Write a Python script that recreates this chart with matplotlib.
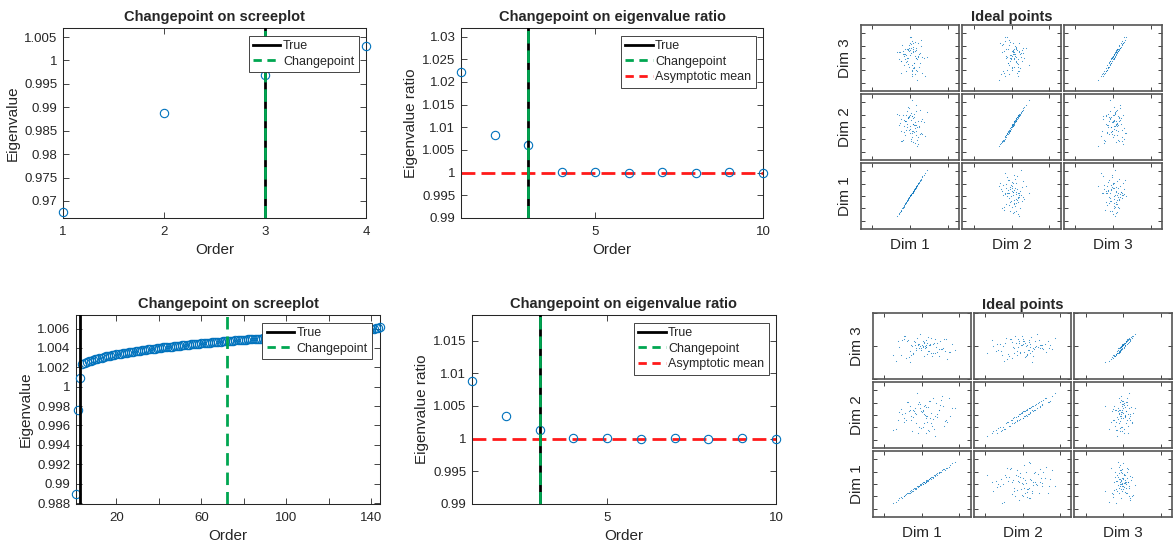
import matplotlib
matplotlib.use("Agg")
import matplotlib.pyplot as plt
from matplotlib.ticker import FuncFormatter
from matplotlib.lines import Line2D

plt.rcParams['font.family'] = ['Liberation Sans', 'DejaVu Sans']

# ---------------- data ----------------
# top row: screeplot / eigenvalue ratio
scree_top = [0.96764, 0.98879, 0.99693, 1.00314]
ratio_top = [1.0221, 1.0083, 1.0062, 1.0001, 1.0002, 1.0000, 1.0002, 1.0000, 1.0001, 1.0000]
true_top = 3
cp_scree_top = 3
cp_ratio_top = 3

# bottom row
scree_bot = [
    0.98894, 0.99758, 1.00094, 1.00231,
    1.00245, 1.00254, 1.00262, 1.00269, 1.00277, 1.00285,
    1.00290, 1.00296, 1.00301, 1.00307, 1.00312, 1.00316, 1.00320, 1.00325, 1.00329, 1.00333,
    1.00337, 1.00341, 1.00345, 1.00348, 1.00352, 1.00355, 1.00359, 1.00362, 1.00366, 1.00370,
    1.00373, 1.00376, 1.00379, 1.00382, 1.00385, 1.00388, 1.00391, 1.00394, 1.00397, 1.00400,
    1.00403, 1.00405, 1.00408, 1.00410, 1.00413, 1.00415, 1.00418, 1.00420, 1.00423, 1.00425,
    1.00427, 1.00429, 1.00431, 1.00434, 1.00436, 1.00438, 1.00440, 1.00442, 1.00445, 1.00447,
    1.00449, 1.00451, 1.00453, 1.00455, 1.00457, 1.00459, 1.00461, 1.00463, 1.00465, 1.00467,
    1.00469, 1.00471, 1.00473, 1.00475, 1.00476, 1.00478, 1.00480, 1.00482, 1.00483, 1.00485,
    1.00487, 1.00488, 1.00490, 1.00491, 1.00493, 1.00494, 1.00496, 1.00497, 1.00499, 1.00500,
    1.00502, 1.00503, 1.00505, 1.00506, 1.00508, 1.00509, 1.00511, 1.00512, 1.00514, 1.00515,
    1.00517, 1.00518, 1.00520, 1.00521, 1.00523, 1.00524, 1.00526, 1.00527, 1.00529, 1.00530,
    1.00532, 1.00533, 1.00535, 1.00536, 1.00538, 1.00539, 1.00541, 1.00542, 1.00544, 1.00545,
    1.00547, 1.00549, 1.00551, 1.00553, 1.00555, 1.00557, 1.00559, 1.00561, 1.00563, 1.00565,
    1.00567, 1.00570, 1.00572, 1.00575, 1.00577, 1.00580, 1.00583, 1.00586, 1.00590, 1.00595,
    1.00599, 1.00604, 1.00609, 1.00615,
]
ratio_bot = [1.00883, 1.00342, 1.00138, 1.00015, 1.0001, 1.0000, 1.0001, 1.0000, 1.0001, 1.0000]
true_bot = 3
cp_scree_bot = 72
cp_ratio_bot = 3

# ideal points, top row (true positions -> x, estimates -> y)
t1_top = [0.31, -0.52, 1.12, 0.05, -1.21, 0.74, 0.22, -0.35, 1.58, -0.88,
          0.47, 0.13, -0.64, 0.96, -0.12, 0.58, -1.45, 0.36, 1.31, -0.27,
          0.82, -0.71, 0.04, 1.77, -0.49, 0.28, -1.02, 0.65, 0.19, -0.18,
          1.05, -0.93, 0.41, 2.18, -0.06, 0.53, -1.68, 0.87, 0.15, -0.41,
          1.24, -0.79, 0.34, 0.71, -0.23, 1.46, -1.15, 0.09, 0.62, -0.57,
          0.99, 0.25, -1.33, 0.44, 1.63, -0.14, 0.77, -0.66, 0.18, 1.18,
          -0.98, 0.51, -0.31, 0.92, 0.02, -1.52, 1.37, -0.45, 0.68, 0.29,
          -0.84, 1.09, -0.09, 0.38, -1.27, 0.83, 1.92, -0.36, 0.56, -0.02]
e1_top = [0.28, -0.49, 1.08, 0.09, -1.17, 0.70, 0.25, -0.31, 1.52, -0.85,
          0.44, 0.16, -0.60, 0.91, -0.09, 0.55, -1.40, 0.33, 1.26, -0.24,
          0.79, -0.68, 0.07, 1.70, -0.46, 0.25, -0.98, 0.61, 0.22, -0.15,
          1.01, -0.89, 0.38, 2.06, -0.03, 0.50, -1.62, 0.83, 0.18, -0.38,
          1.19, -0.75, 0.31, 0.68, -0.20, 1.40, -1.11, 0.12, 0.59, -0.54,
          0.95, 0.28, -1.28, 0.41, 1.57, -0.11, 0.73, -0.63, 0.21, 1.13,
          -0.94, 0.48, -0.28, 0.88, 0.05, -1.47, 1.31, -0.42, 0.65, 0.26,
          -0.81, 1.04, -0.06, 0.35, -1.22, 0.79, 1.85, -0.33, 0.53, 0.01]
t2_top = [-0.42, 0.88, 0.15, -1.08, 0.53, 1.36, -0.27, 0.71, -0.63, 0.02,
          1.14, -0.85, 0.39, -0.11, 0.96, -1.39, 0.24, 0.62, -0.48, 1.71,
          0.07, -0.72, 1.03, 0.33, -0.19, 0.81, -1.22, 0.46, 2.25, -0.36,
          0.58, -0.94, 0.12, 1.27, -0.57, 0.29, 0.93, -1.61, 0.66, -0.05,
          1.48, -0.31, 0.19, -0.77, 0.84, 0.41, -1.03, 1.19, -0.14, 0.55,
          -0.68, 0.98, 0.27, -1.31, 0.74, 1.58, -0.22, 0.36, -0.89, 0.11,
          1.07, -0.46, 0.63, -1.14, 0.21, 0.86, -0.38, 1.34, 0.04, -0.61,
          0.49, -1.49, 0.92, 0.17, -0.25, 1.88, -0.81, 0.31, 0.69, -0.09]
e2_top = [-0.35, 0.97, 0.05, -1.15, 0.61, 1.27, -0.36, 0.79, -0.55, 0.11,
          1.05, -0.93, 0.47, -0.02, 0.87, -1.30, 0.15, 0.70, -0.57, 1.62,
          0.16, -0.64, 0.94, 0.42, -0.28, 0.89, -1.13, 0.37, 2.14, -0.27,
          0.49, -1.03, 0.21, 1.18, -0.48, 0.20, 1.02, -1.52, 0.57, 0.04,
          1.39, -0.40, 0.28, -0.68, 0.75, 0.50, -1.12, 1.10, -0.05, 0.46,
          -0.77, 0.89, 0.36, -1.22, 0.65, 1.49, -0.31, 0.45, -0.80, 0.02,
          0.98, -0.37, 0.72, -1.05, 0.12, 0.95, -0.47, 1.25, 0.13, -0.52,
          0.58, -1.40, 0.83, 0.26, -0.34, 1.79, -0.72, 0.22, 0.78, -0.18]
t3_top = [0.62, -0.91, 0.14, 1.25, -0.37, 0.48, -1.44, 0.83, -0.06, 0.29,
          -0.68, 1.52, 0.09, -0.23, 0.71, -1.12, 0.36, 1.03, -0.52, 0.18,
          -0.81, 0.55, 1.36, -0.15, 0.42, -1.27, 0.88, 0.01, -0.44, 1.16,
          -0.03, 0.67, -0.96, 0.24, 1.78, -0.58, 0.33, -1.93, 0.93, -0.19,
          0.51, -0.74, 1.09, 0.12, -0.33, 0.79, -1.05, 0.27, 1.44, -0.48,
          0.06, -0.87, 0.61, 0.38, -1.36, 0.97, -0.11, 0.45, 1.21, -0.62,
          0.21, -0.29, 0.85, -1.18, 0.53, 0.03, 1.62, -0.41, 0.74, -0.79,
          0.16, 1.31, -0.55, 0.39, -0.08, 0.92, -1.59, 0.58, -0.25, 0.11]
e3_top = [0.75, -1.05, 0.29, 1.11, -0.21, 0.62, -1.30, 0.68, 0.10, 0.15,
          -0.82, 1.67, -0.06, -0.08, 0.57, -1.26, 0.51, 0.90, -0.38, 0.04,
          -0.95, 0.70, 1.22, -0.01, 0.27, -1.41, 1.02, 0.15, -0.58, 1.01,
          0.12, 0.53, -0.82, 0.10, 1.65, -0.72, 0.47, -1.80, 0.79, -0.04,
          0.37, -0.60, 1.23, -0.02, -0.47, 0.93, -1.19, 0.41, 1.30, -0.34,
          0.20, -1.01, 0.47, 0.52, -1.22, 0.83, 0.03, 0.31, 1.35, -0.76,
          0.35, -0.43, 0.71, -1.04, 0.67, -0.11, 1.48, -0.27, 0.60, -0.93,
          0.30, 1.17, -0.69, 0.53, -0.22, 0.78, -1.45, 0.72, -0.39, 0.25]

# ideal points, bottom row
t1_bot = [0.62, -1.84, 2.35, -0.47, 1.18, -3.12, 0.93, 3.41, -1.06, 0.15,
          -2.43, 1.76, 0.38, -0.82, 2.91, -1.57, 0.04, 1.42, -3.86, 0.71,
          2.08, -0.29, -1.33, 4.42, 0.49, -2.11, 1.05, -0.61, 3.02, -0.14,
          1.63, -2.78, 0.27, 2.57, -1.21, 0.86, -0.38, 3.78, -1.92, 1.31,
          -0.95, 0.53, 2.22, -3.45, 0.11, 1.89, -0.71, -2.26, 2.69, 0.79,
          -1.48, 0.34, 3.25, -0.53, 1.51, -2.63, 0.97, -0.19, 1.97, -1.71,
          0.58, 2.84, -1.13, 0.23, -3.01, 1.24, 3.57, -0.88, 0.42, -1.39,
          2.46, -0.07, 1.12, -2.34, 0.69, 4.05, -0.44, 1.71, -1.64, 0.18]
e1_bot = [0.30, -0.69, 0.98, -0.25, 0.41, -1.31, 0.42, 1.30, -0.36, 0.13,
          -0.93, 0.76, 0.09, -0.39, 1.21, -0.56, 0.08, 0.50, -1.55, 0.33,
          0.87, -0.05, -0.60, 1.78, 0.14, -0.80, 0.48, -0.19, 1.14, -0.11,
          0.71, -1.07, 0.16, 0.97, -0.53, 0.29, -0.20, 1.56, -0.72, 0.58,
          -0.34, 0.26, 0.85, -1.42, 0.00, 0.80, -0.33, -0.86, 1.13, 0.27,
          -0.64, 0.19, 1.26, -0.17, 0.55, -1.10, 0.44, -0.02, 0.75, -0.73,
          0.18, 1.18, -0.40, 0.14, -1.14, 0.54, 1.39, -0.39, 0.12, -0.51,
          0.94, 0.04, 0.49, -0.97, 0.22, 1.65, -0.13, 0.63, -0.70, 0.02]
t2_bot = [-1.27, 2.14, 0.48, -3.36, 1.05, -0.52, 3.61, -2.08, 0.19, 1.68,
          -0.94, -4.72, 2.57, 0.73, -1.65, 1.29, -0.11, 3.02, -2.71, 0.36,
          -0.28, 1.91, -3.89, 0.87, 2.39, -1.42, 0.05, 4.26, -0.77, 1.43,
          -2.33, 0.61, -0.43, 2.78, -1.08, 1.17, -3.04, 0.24, 3.33, -1.86,
          0.92, -0.63, 1.56, -2.52, 0.13, 2.02, -1.19, -0.06, 3.87, -3.58,
          0.55, 1.34, -1.53, 2.63, -0.35, 0.81, -2.89, 1.79, -0.89, 0.29,
          -4.11, 2.28, 0.66, -1.36, 1.02, -2.21, 3.15, -0.17, 0.43, -0.71,
          1.62, -3.23, 2.46, 0.08, -1.97, 0.99, 3.48, -0.56, 1.21, -2.62]
e2_bot = [-0.22, 1.05, 0.41, -1.45, 0.18, -0.41, 1.16, -0.60, 0.32, 0.43,
          -0.58, -1.68, 0.84, 0.05, -0.85, 0.71, 0.21, 1.33, -1.17, -0.06,
          0.12, 0.53, -1.32, 0.60, 0.68, -0.37, -0.24, 1.78, -0.49, 0.33,
          -1.10, 0.46, 0.08, 1.24, -0.19, 0.61, -0.98, -0.12, 1.05, -0.87,
          0.53, -0.08, 0.42, -1.14, 0.30, 0.95, -0.62, 0.17, 1.49, -1.21,
          -0.05, 0.74, -0.43, 0.87, -0.35, 0.07, -1.27, 0.88, -0.14, 0.35,
          -1.42, 0.71, 0.43, -0.68, 0.22, -0.61, 1.36, 0.19, 0.02, -0.44,
          0.80, -1.05, 1.10, -0.24, -0.55, 0.55, 1.07, -0.11, 0.37, -0.93]
t3_bot = [-0.28, 0.45, -1.12, 0.13, -0.61, 0.92, -0.05, -1.63, 0.38, -0.44,
          1.21, -0.83, 0.07, -0.31, 0.66, -2.38, -0.18, 0.51, -0.95, 0.24,
          -0.52, 1.53, -0.12, -0.74, 0.31, -1.29, 0.02, 0.82, -0.39, -0.66,
          0.17, -1.41, 0.59, -0.23, -0.87, 1.06, -0.09, -0.48, 0.35, -1.05,
          0.71, -0.35, -0.16, -1.86, 0.42, 0.09, -0.57, 1.34, -0.26, -0.79,
          0.28, -1.18, 0.54, -0.02, -0.69, 0.86, -0.43, -0.21, 0.19, -1.51,
          0.63, -0.11, -0.91, 0.40, -0.33, 1.12, -0.62, -0.07, 0.21, -1.23,
          0.48, -0.47, -0.14, 0.77, -0.99, 0.03, -0.37, 0.95, -0.58, -0.25]
e3_bot = [-0.05, 0.35, -0.62, 0.14, -0.40, 0.30, 0.09, -0.79, 0.32, -0.08,
          0.62, -0.45, -0.13, -0.25, 0.41, -0.94, 0.06, 0.12, -0.52, 0.21,
          -0.36, 0.74, 0.03, -0.23, 0.04, -0.70, 0.15, 0.46, -0.30, -0.12,
          0.20, -0.53, 0.18, -0.17, -0.44, 0.55, 0.10, -0.35, 0.30, -0.60,
          0.25, -0.04, -0.21, -0.88, 0.33, -0.07, -0.15, 0.63, -0.19, -0.32,
          0.09, -0.58, 0.42, 0.07, -0.41, 0.39, -0.29, 0.02, 0.16, -0.66,
          0.37, -0.12, -0.47, 0.24, -0.06, 0.49, -0.37, 0.08, 0.02, -0.55,
          0.28, -0.27, 0.05, 0.45, -0.49, 0.12, -0.10, 0.42, -0.33, -0.01]

# ---------------- style ----------------
TXT = '#262626'
BLUE = '#0072BD'
GREEN = '#00A651'
RED = '#FF1A1A'
W, H = 1173, 544

fig = plt.figure(figsize=(W / 100, H / 100), dpi=100)


def px_axes(left, top, right, bottom):
    return fig.add_axes([left / W, 1 - bottom / H, (right - left) / W, (bottom - top) / H])


def style_axes(ax):
    for s in ax.spines.values():
        s.set_color(TXT)
        s.set_linewidth(0.75)
    ax.tick_params(direction='in', length=4, width=0.6, top=True, right=True,
                   colors=TXT, labelsize=9.5, labelcolor=TXT)
    ax.tick_params(axis='x', pad=6)
    ax.tick_params(axis='y', pad=4)
    ax.yaxis.set_major_formatter(FuncFormatter(lambda v, p: f'{v:g}'))


def add_legend(ax, with_mean):
    handles = [Line2D([], [], color='black', lw=2),
               Line2D([], [], color=GREEN, lw=2, dashes=(3, 2))]
    labels = ['True', 'Changepoint']
    if with_mean:
        handles.append(Line2D([], [], color=RED, lw=2, dashes=(3, 2)))
        labels.append('Asymptotic mean')
    leg = ax.legend(handles, labels, loc='upper right', fontsize=9, fancybox=False,
                    framealpha=1, edgecolor=TXT, handlelength=2.2, handletextpad=0.2,
                    borderpad=0.35, labelspacing=0.3, borderaxespad=0.6)
    leg.get_frame().set_linewidth(0.6)
    for t in leg.get_texts():
        t.set_color(TXT)


def scree_panel(rect, vals, true_k, cp_k, ylim, yticks, xticks, xticklabels):
    ax = px_axes(*rect)
    x = list(range(1, len(vals) + 1))
    ax.plot(x, vals, 'o', mfc='none', mec=BLUE, ms=6, mew=0.8, clip_on=False, zorder=3)
    ax.axvline(true_k, color='black', lw=2, zorder=4)
    ax.axvline(cp_k, color=GREEN, lw=2, dashes=(4.5, 2.5), zorder=5)
    ax.set_xlim(1, len(vals))
    ax.set_ylim(*ylim)
    ax.set_yticks(yticks)
    ax.set_xticks(xticks)
    ax.set_xticklabels(xticklabels)
    style_axes(ax)
    ax.set_title('Changepoint on screeplot', fontsize=10.5, fontweight='bold', color=TXT, pad=5)
    ax.set_xlabel('Order', fontsize=11, color=TXT, labelpad=3)
    ax.set_ylabel('Eigenvalue', fontsize=11, color=TXT, labelpad=3)
    add_legend(ax, False)
    return ax


def ratio_panel(rect, vals, true_k, cp_k, ylim, yticks):
    ax = px_axes(*rect)
    x = list(range(1, len(vals) + 1))
    ax.plot(x, vals, 'o', mfc='none', mec=BLUE, ms=6, mew=0.8, clip_on=False, zorder=3)
    ax.axvline(true_k, color='black', lw=2, zorder=4)
    ax.axvline(cp_k, color=GREEN, lw=2, dashes=(4.5, 2.5), zorder=5)
    ax.axhline(1, color=RED, lw=2, dashes=(5, 2.2), zorder=2)
    ax.set_xlim(1, len(vals))
    ax.set_ylim(*ylim)
    ax.set_yticks(yticks)
    ax.set_xticks([5, 10])
    style_axes(ax)
    ax.set_title('Changepoint on eigenvalue ratio', fontsize=10.5, fontweight='bold', color=TXT, pad=5)
    ax.set_xlabel('Order', fontsize=11, color=TXT, labelpad=3)
    ax.set_ylabel('Eigenvalue ratio', fontsize=11, color=TXT, labelpad=3)
    add_legend(ax, True)
    return ax


def ideal_panel(rect, trues, ests, row_ylims, row_yticks):
    left, top, right, bottom = rect
    gap = 3
    pw = (right - left - 2 * gap) / 3
    ph = (bottom - top - 2 * gap) / 3
    for r in range(3):
        d = 2 - r  # top row shows Dim 3
        for c in range(3):
            l = left + c * (pw + gap)
            t = top + r * (ph + gap)
            ax = px_axes(l, t, l + pw, t + ph)
            ax.plot(trues[c], ests[d], '.', ms=1.6, color=BLUE, alpha=0.8, mew=0)
            ax.set_xlim(-6.5, 6.5)
            ax.set_ylim(*row_ylims[d])
            ax.set_xticks([-5, 0, 5])
            ax.set_yticks(row_yticks[d])
            ax.set_xticklabels([])
            ax.set_yticklabels([])
            for s in ax.spines.values():
                s.set_color('#555555')
                s.set_linewidth(1.2)
            ax.tick_params(direction='in', length=3, width=0.6, top=True, right=True, colors=TXT)
            if c == 0:
                ax.set_ylabel(f'Dim {d + 1}', fontsize=11, color=TXT, labelpad=3)
            if r == 2:
                ax.set_xlabel(f'Dim {c + 1}', fontsize=11, color=TXT, labelpad=3)
            if r == 0 and c == 1:
                ax.set_title('Ideal points', fontsize=10.5, fontweight='bold', color=TXT, pad=3)


# ---------------- top row ----------------
scree_panel((63, 28, 366, 218), scree_top, true_top, cp_scree_top,
            (0.96636, 1.00693), [0.97, 0.975, 0.98, 0.985, 0.99, 0.995, 1.0, 1.005],
            [1, 2, 3, 4], ['1', '2', '3', '4'])
ratio_panel((461, 28, 763, 218), ratio_top, true_top, cp_ratio_top,
            (0.99, 1.0319), [0.99, 0.995, 1.0, 1.005, 1.01, 1.015, 1.02, 1.025, 1.03])
ideal_panel((861, 25, 1162, 229), [t1_top, t2_top, t3_top], [e1_top, e2_top, e3_top],
            [(-2.65, 2.65)] * 3, [[-2, -1, 0, 1, 2]] * 3)

# ---------------- bottom row ----------------
scree_panel((76, 315, 380, 504), scree_bot, true_bot, cp_scree_bot,
            (0.9879, 1.0074), [0.988, 0.99, 0.992, 0.994, 0.996, 0.998, 1.0, 1.002, 1.004, 1.006],
            [20, 40, 60, 80, 100, 120, 140], ['20', '', '60', '', '100', '', '140'])
ratio_panel((472, 315, 776, 504), ratio_bot, true_bot, cp_ratio_bot,
            (0.99, 1.0189), [0.99, 0.995, 1.0, 1.005, 1.01, 1.015])
ideal_panel((873, 313, 1172, 517), [t1_bot, t2_bot, t3_bot], [e1_bot, e2_bot, e3_bot],
            [(-2.65, 2.65), (-2.65, 2.65), (-1.9, 1.9)],
            [[-2, -1, 0, 1, 2], [-2, -1, 0, 1, 2], [-2, 0, 2]])

fig.savefig('out.png', dpi=100)
